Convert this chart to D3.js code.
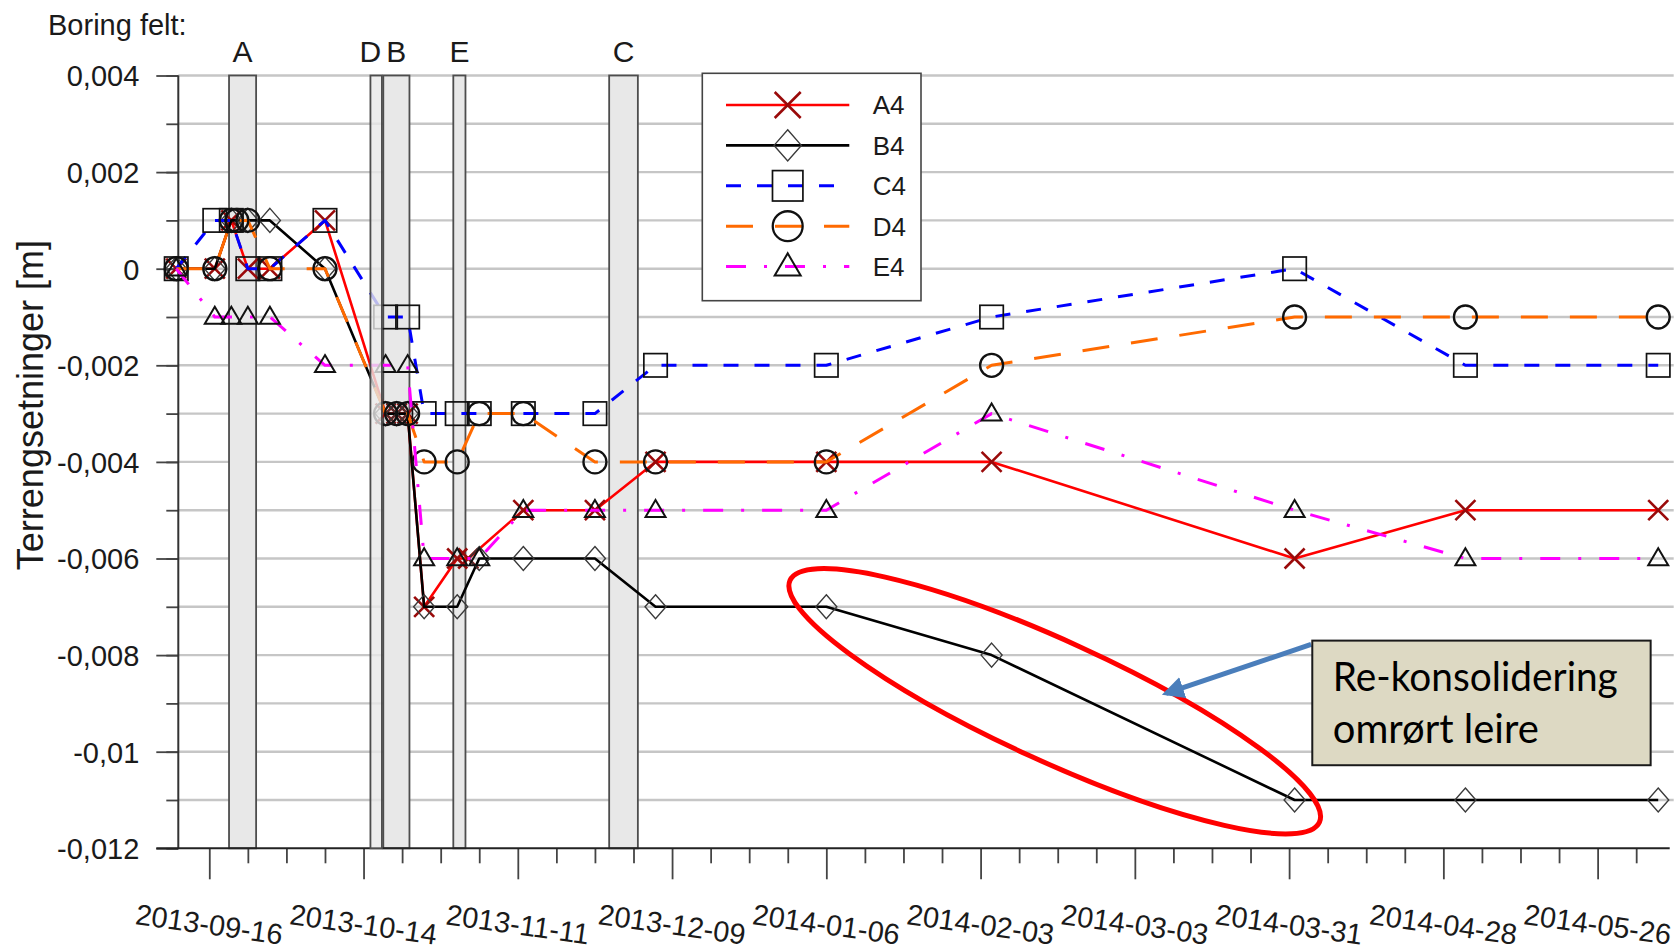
<!DOCTYPE html>
<html>
<head>
<meta charset="utf-8">
<script src="https://cdn.jsdelivr.net/npm/d3@7"></script>
<style>
  html, body { margin: 0; padding: 0; background: #fff; }
  svg { display: block; font-family: "Liberation Sans", Arial, sans-serif; }
</style>
</head>
<body>
<svg id="chart" width="1677" height="950"></svg>
<script>
// Measurement dates (settlement readings)
const dates = [
  "2013-09-10", "2013-09-17", "2013-09-20", "2013-09-21", "2013-09-23", "2013-09-27",
  "2013-10-07", "2013-10-18", "2013-10-20", "2013-10-22", "2013-10-25", "2013-10-31",
  "2013-11-02", "2013-11-04", "2013-11-12", "2013-11-25", "2013-12-06", "2014-01-06",
  "2014-02-05", "2014-04-01", "2014-05-02", "2014-06-06"
];

// Terrain settlement per point [m]; null = no reading that day
const valuesA4 = [0, 0, 0.001, null, 0, 0, 0.001, -0.003, -0.003, -0.003, -0.007, -0.006,
  -0.006, null, -0.005, -0.005, -0.004, -0.004, -0.004, -0.006, -0.005, -0.005];
const valuesB4 = [0, 0, 0.001, null, 0.001, 0.001, 0, -0.003, -0.003, -0.003, -0.007, -0.007,
  null, -0.006, -0.006, -0.006, -0.007, -0.007, -0.008, -0.011, -0.011, -0.011];
const valuesC4 = [0, 0.001, 0.001, null, 0, 0, 0.001, -0.001, null, -0.001, -0.003, -0.003,
  null, -0.003, -0.003, -0.003, -0.002, -0.002, -0.001, 0, -0.002, -0.002];
const valuesD4 = [0, 0, 0.001, 0.001, 0.001, 0, 0, -0.003, -0.003, -0.003, -0.004, -0.004,
  null, -0.003, -0.003, -0.004, -0.004, -0.004, -0.002, -0.001, -0.001, -0.001];
const valuesE4 = [0, -0.001, -0.001, null, -0.001, -0.001, -0.002, -0.002, null, -0.002, -0.006, -0.006,
  null, -0.006, -0.005, -0.005, -0.005, -0.005, -0.003, -0.005, -0.006, -0.006];

const seriesNames = ["A4", "B4", "C4", "D4", "E4"];

// Drilling periods per field
const bandNames = ["A", "D", "B", "E", "C"];
const bandStarts = ["2013-09-19 14:00", "2013-10-15 06:00", "2013-10-17 14:00", "2013-10-30 07:00", "2013-11-27 14:00"];
const bandEnds   = ["2013-09-24 12:00", "2013-10-17 08:00", "2013-10-22 08:00", "2013-11-01 12:00", "2013-12-02 19:00"];

// Axis ticks
const yMajorTicks = [0.004, 0.002, 0, -0.002, -0.004, -0.006, -0.008, -0.01, -0.012];
const yTickLabels = ["0,004", "0,002", "0", "-0,002", "-0,004", "-0,006", "-0,008", "-0,01", "-0,012"];
const xTickLabels = ["2013-09-16", "2013-10-14", "2013-11-11", "2013-12-09", "2014-01-06",
  "2014-02-03", "2014-03-03", "2014-03-31", "2014-04-28", "2014-05-26"];

// Annotation anchors in data space
const ellipseTips = [["2013-12-30 10:00", -0.00645], ["2014-04-05 12:00", -0.01146]];
const noteBox = [["2014-04-04 05:00", -0.0077], ["2014-06-04 15:00", -0.01028]];
const arrowEnds = [["2014-04-04 00:00", -0.00778], ["2014-03-08 16:00", -0.00879]];
const noteLines = ["Re-konsolidering", "omrørt leire"];

const parseDay = d3.utcParse("%Y-%m-%d");
const parseHour = d3.utcParse("%Y-%m-%d %H:%M");

const svg = d3.select("#chart");

const plot = { left: 178.3, right: 1669.7, top: 75.5, bottom: 848.3 };

const x = d3.scaleUtc()
  .domain([parseHour("2013-09-10 09:00"), parseHour("2014-06-08 02:00")])
  .range([plot.left, plot.right]);
const y = d3.scaleLinear()
  .domain([-0.012, 0.004])
  .range([plot.bottom, plot.top]);

const styles = {
  A4: { color: "#ff0000", dash: null, width: 2.6, marker: "cross" },
  B4: { color: "#000000", dash: null, width: 2.6, marker: "diamond" },
  C4: { color: "#0000ff", dash: "15,16", width: 3, marker: "square" },
  D4: { color: "#ff6a00", dash: "27,22", width: 3, marker: "circle" },
  E4: { color: "#ff00ff", dash: "20,18,3,18", width: 3, marker: "triangle" }
};
const seriesValues = { A4: valuesA4, B4: valuesB4, C4: valuesC4, D4: valuesD4, E4: valuesE4 };

// ---- horizontal grid lines every 0.001 ----
const gridVals = d3.range(-11, 5).map(k => k / 1000);
svg.append("g")
  .selectAll("line")
  .data(gridVals)
  .join("line")
  .attr("x1", plot.left).attr("x2", plot.right + 4)
  .attr("y1", d => y(d)).attr("y2", d => y(d))
  .attr("stroke", "#c6c6c6").attr("stroke-width", 2.4);

// ---- drilling bands ----
const bands = bandNames.map((n, i) => ({ name: n, start: parseHour(bandStarts[i]), end: parseHour(bandEnds[i]) }));
function drawBand(g, b, opacity) {
  g.append("rect")
    .attr("x", x(b.start)).attr("y", y(0.004))
    .attr("width", x(b.end) - x(b.start))
    .attr("height", y(-0.012) - y(0.004))
    .attr("fill", "#e8e8e8").attr("fill-opacity", opacity)
    .attr("stroke", "#4d4d4d").attr("stroke-width", 1.8);
}
const bandLayer = svg.append("g");
bands.filter(b => b.name !== "D").forEach(b => drawBand(bandLayer, b, 1));

// band letters, nudged apart where they would collide
const letterPos = bands.map(b => ({ name: b.name, cx: (x(b.start) + x(b.end)) / 2 }))
  .sort((a, b) => a.cx - b.cx);
for (let i = letterPos.length - 2; i >= 0; i--) {
  const minGap = 26;
  if (letterPos[i + 1].cx - letterPos[i].cx < minGap) letterPos[i].cx = letterPos[i + 1].cx - minGap;
}
svg.append("g").selectAll("text")
  .data(letterPos)
  .join("text")
  .attr("x", d => d.cx).attr("y", 62)
  .attr("text-anchor", "middle")
  .attr("font-size", 30).attr("fill", "#1a1a1a")
  .text(d => d.name);

svg.append("text")
  .attr("x", 48).attr("y", 35)
  .attr("font-size", 29).attr("fill", "#1a1a1a")
  .text("Boring felt:");

// ---- y axis ----
const yMinorVals = d3.range(-12, 5).map(k => k / 1000);
svg.append("g")
  .attr("transform", `translate(${plot.left},0)`)
  .call(d3.axisLeft(y).tickValues(yMinorVals).tickSize(12).tickSizeOuter(0).tickFormat(""))
  .call(g => g.select(".domain").remove())
  .call(g => g.selectAll("line").attr("stroke", "#444").attr("stroke-width", 1.8));
svg.append("g")
  .attr("transform", `translate(${plot.left},0)`)
  .call(d3.axisLeft(y).tickValues(yMajorTicks).tickSize(22).tickSizeOuter(0).tickPadding(17)
    .tickFormat((d, i) => yTickLabels[i]))
  .call(g => g.select(".domain").remove())
  .call(g => g.selectAll("line").attr("stroke", "#444").attr("stroke-width", 1.8))
  .call(g => g.selectAll("text").attr("font-size", 29).attr("fill", "#1a1a1a")
    .attr("font-family", "'Liberation Sans', Arial, sans-serif").attr("dy", "0.36em"));
svg.append("line")
  .attr("x1", plot.left).attr("x2", plot.left)
  .attr("y1", y(0.004)).attr("y2", y(-0.012))
  .attr("stroke", "#333").attr("stroke-width", 2);

svg.append("text")
  .attr("transform", `translate(43,240) rotate(-90)`)
  .attr("text-anchor", "end")
  .attr("font-size", 36).attr("fill", "#1a1a1a")
  .text("Terrengsetninger [m]");

// ---- x axis (weekly ticks, labelled every 4th Monday) ----
const firstMajor = parseDay(xTickLabels[0]);
const mondays = d3.utcMonday.range(x.domain()[0], x.domain()[1]);
const isMajor = d => Math.round((d - firstMajor) / 864e5) % 28 === 0;
const xAxisG = svg.append("g").attr("transform", `translate(0,${plot.bottom})`);
xAxisG.call(d3.axisBottom(x).tickValues(mondays.filter(d => !isMajor(d))).tickSize(15).tickSizeOuter(0).tickFormat(""))
  .call(g => g.select(".domain").remove())
  .call(g => g.selectAll("line").attr("stroke", "#444").attr("stroke-width", 1.8));
const xMajorG = svg.append("g").attr("transform", `translate(0,${plot.bottom})`);
xMajorG.call(d3.axisBottom(x).tickValues(xTickLabels.map(parseDay)).tickSize(31).tickSizeOuter(0).tickFormat(""))
  .call(g => g.select(".domain").remove())
  .call(g => g.selectAll("line").attr("stroke", "#444").attr("stroke-width", 1.8));
svg.append("line")
  .attr("x1", plot.left - 22).attr("x2", plot.right)
  .attr("y1", plot.bottom).attr("y2", plot.bottom)
  .attr("stroke", "#222").attr("stroke-width", 2);

svg.append("g").selectAll("text")
  .data(xTickLabels)
  .join("text")
  .attr("transform", d => `translate(${x(parseDay(d))},924) rotate(8)`)
  .attr("text-anchor", "middle")
  .attr("dy", "0.36em")
  .attr("font-size", 29).attr("fill", "#1a1a1a")
  .text(d => d);

// ---- markers ----
function marker(g, type, cx, cy, k) {
  if (type === "cross") {
    const h = 10 * k;
    g.append("path").attr("d", `M${cx - h},${cy - h}L${cx + h},${cy + h}M${cx - h},${cy + h}L${cx + h},${cy - h}`)
      .attr("stroke", "#9a0a0a").attr("stroke-width", 2.6).attr("fill", "none");
  } else if (type === "diamond") {
    const w = 10.5 * k, h = 12 * k;
    g.append("path").attr("d", `M${cx},${cy - h}L${cx + w},${cy}L${cx},${cy + h}L${cx - w},${cy}Z`)
      .attr("stroke", "#3a3a3a").attr("stroke-width", 1.4).attr("fill", "none");
  } else if (type === "square") {
    const h = 11.7 * k;
    g.append("rect").attr("x", cx - h).attr("y", cy - h).attr("width", 2 * h).attr("height", 2 * h)
      .attr("stroke", "#111").attr("stroke-width", 1.7).attr("fill", "none");
  } else if (type === "circle") {
    g.append("circle").attr("cx", cx).attr("cy", cy).attr("r", 11.5 * k)
      .attr("stroke", "#111").attr("stroke-width", 2.3).attr("fill", "none");
  } else if (type === "triangle") {
    const w = 10 * k, h = 17 * k;
    g.append("path").attr("d", `M${cx},${cy - h * 0.6}L${cx + w},${cy + h * 0.4}L${cx - w},${cy + h * 0.4}Z`)
      .attr("stroke", "#111").attr("stroke-width", 2).attr("fill", "none").attr("stroke-linejoin", "miter");
  }
}

// ---- series ----
const line = d3.line().x(d => x(d.date)).y(d => y(d.value));
const dataLayer = svg.append("g");
seriesNames.forEach(name => {
  const st = styles[name];
  const pts = dates.map((d, i) => ({ date: parseDay(d), value: seriesValues[name][i] }))
    .filter(p => p.value !== null);
  const g = dataLayer.append("g");
  g.append("path").datum(pts)
    .attr("d", line)
    .attr("fill", "none")
    .attr("stroke", st.color)
    .attr("stroke-width", st.width)
    .attr("stroke-dasharray", st.dash)
    .attr("stroke-linejoin", "round");
  pts.forEach(p => marker(g, st.marker, x(p.date), y(p.value), 1));
});

// band D is laid over the readings, semi-transparent
bands.filter(b => b.name === "D").forEach(b => drawBand(svg.append("g"), b, 0.8));

// ---- legend ----
const legend = svg.append("g");
legend.append("rect")
  .attr("x", 702.3).attr("y", 73.3).attr("width", 218.7).attr("height", 227.4)
  .attr("fill", "#fff").attr("stroke", "#444").attr("stroke-width", 1.6);
seriesNames.forEach((name, i) => {
  const st = styles[name];
  const ry = 105 + i * 40.4;
  legend.append("line")
    .attr("x1", 726).attr("x2", 849.3).attr("y1", ry).attr("y2", ry)
    .attr("stroke", st.color).attr("stroke-width", st.width)
    .attr("stroke-dasharray", st.dash);
  marker(legend, st.marker, 787.7, ry, 1.3);
  legend.append("text")
    .attr("x", 872.7).attr("y", ry).attr("dy", "0.36em")
    .attr("font-size", 26).attr("fill", "#1a1a1a")
    .text(name);
});

// ---- annotation: ellipse, arrow and note box ----
const tipA = [x(parseHour(ellipseTips[0][0])), y(ellipseTips[0][1])];
const tipB = [x(parseHour(ellipseTips[1][0])), y(ellipseTips[1][1])];
const ecx = (tipA[0] + tipB[0]) / 2, ecy = (tipA[1] + tipB[1]) / 2;
const erx = Math.hypot(tipB[0] - tipA[0], tipB[1] - tipA[1]) / 2;
const eang = Math.atan2(tipB[1] - tipA[1], tipB[0] - tipA[0]) * 180 / Math.PI;
svg.append("ellipse")
  .attr("cx", ecx).attr("cy", ecy).attr("rx", erx).attr("ry", 60)
  .attr("transform", `rotate(${eang},${ecx},${ecy})`)
  .attr("fill", "none").attr("stroke", "#ff0000").attr("stroke-width", 5);

const defs = svg.append("defs");
defs.append("marker")
  .attr("id", "arrowHead").attr("viewBox", "0 0 10 10")
  .attr("refX", 8).attr("refY", 5)
  .attr("markerWidth", 4.4).attr("markerHeight", 4.4)
  .attr("orient", "auto")
  .append("path").attr("d", "M0,0L10,5L0,10Z").attr("fill", "#4a7ebb");
const a0 = [x(parseHour(arrowEnds[0][0])), y(arrowEnds[0][1])];
const a1 = [x(parseHour(arrowEnds[1][0])), y(arrowEnds[1][1])];
svg.append("line")
  .attr("x1", a0[0]).attr("y1", a0[1]).attr("x2", a1[0]).attr("y2", a1[1])
  .attr("stroke", "#4a7ebb").attr("stroke-width", 5)
  .attr("marker-end", "url(#arrowHead)");

const bx0 = x(parseHour(noteBox[0][0])), by0 = y(noteBox[0][1]);
const bx1 = x(parseHour(noteBox[1][0])), by1 = y(noteBox[1][1]);
svg.append("rect")
  .attr("x", bx0).attr("y", by0).attr("width", bx1 - bx0).attr("height", by1 - by0)
  .attr("fill", "#ddd9c3").attr("stroke", "#1a1a1a").attr("stroke-width", 2);
const noteWidths = [285, 206];
svg.append("g").selectAll("text")
  .data(noteLines)
  .join("text")
  .attr("x", bx0 + 20.5)
  .attr("y", (d, i) => by0 + 50 + i * 52)
  .attr("font-family", "Lato, 'Open Sans', sans-serif")
  .attr("font-size", 40).attr("fill", "#000")
  .attr("textLength", (d, i) => noteWidths[i])
  .attr("lengthAdjust", "spacingAndGlyphs")
  .text(d => d);
</script>
</body>
</html>
